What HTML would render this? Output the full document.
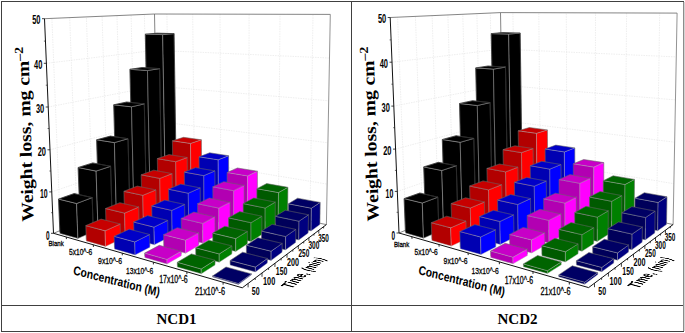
<!DOCTYPE html>
<html><head><meta charset="utf-8"><style>
html,body{margin:0;padding:0;background:#fff;overflow:hidden;}
svg{display:block;}
.t3{position:absolute;left:0;top:0;transform-origin:0 0;overflow:visible;}
</style></head><body>
<svg width="685" height="333" viewBox="0 0 685 333">
<rect width="685" height="333" fill="#fff"/>
<polygon points="53.5,233.3 157.8,190.2 154.5,14.0 44.5,18.7" fill="#fff"/>
<polygon points="157.8,190.2 326.4,224.6 330.3,14.4 154.5,14.0" fill="#fff"/>
<line x1="51.7" y1="191.9" x2="157.2" y2="156.0" stroke="#e2e2e2" stroke-width="0.6" stroke-dasharray="1.5,1"/>
<line x1="157.2" y1="156.0" x2="327.1" y2="184.1" stroke="#e2e2e2" stroke-width="0.6" stroke-dasharray="1.5,1"/>
<line x1="50.0" y1="149.8" x2="156.5" y2="121.3" stroke="#e2e2e2" stroke-width="0.6" stroke-dasharray="1.5,1"/>
<line x1="156.5" y1="121.3" x2="327.9" y2="142.8" stroke="#e2e2e2" stroke-width="0.6" stroke-dasharray="1.5,1"/>
<line x1="48.2" y1="107.0" x2="155.9" y2="86.1" stroke="#e2e2e2" stroke-width="0.6" stroke-dasharray="1.5,1"/>
<line x1="155.9" y1="86.1" x2="328.7" y2="100.8" stroke="#e2e2e2" stroke-width="0.6" stroke-dasharray="1.5,1"/>
<line x1="46.3" y1="63.3" x2="155.2" y2="50.3" stroke="#e2e2e2" stroke-width="0.6" stroke-dasharray="1.5,1"/>
<line x1="155.2" y1="50.3" x2="329.5" y2="58.0" stroke="#e2e2e2" stroke-width="0.6" stroke-dasharray="1.5,1"/>
<line x1="60.5" y1="230.4" x2="51.9" y2="18.4" stroke="#e2e2e2" stroke-width="0.6" stroke-dasharray="1.5,1"/>
<line x1="77.2" y1="223.5" x2="69.7" y2="17.7" stroke="#e2e2e2" stroke-width="0.6" stroke-dasharray="1.5,1"/>
<line x1="93.0" y1="216.9" x2="86.4" y2="16.9" stroke="#e2e2e2" stroke-width="0.6" stroke-dasharray="1.5,1"/>
<line x1="107.9" y1="210.8" x2="102.1" y2="16.3" stroke="#e2e2e2" stroke-width="0.6" stroke-dasharray="1.5,1"/>
<line x1="122.0" y1="205.0" x2="117.0" y2="15.6" stroke="#e2e2e2" stroke-width="0.6" stroke-dasharray="1.5,1"/>
<line x1="135.4" y1="199.4" x2="131.1" y2="15.0" stroke="#e2e2e2" stroke-width="0.6" stroke-dasharray="1.5,1"/>
<line x1="148.1" y1="194.2" x2="144.4" y2="14.4" stroke="#e2e2e2" stroke-width="0.6" stroke-dasharray="1.5,1"/>
<line x1="169.8" y1="192.6" x2="166.9" y2="14.0" stroke="#e2e2e2" stroke-width="0.6" stroke-dasharray="1.5,1"/>
<line x1="194.6" y1="197.7" x2="192.7" y2="14.1" stroke="#e2e2e2" stroke-width="0.6" stroke-dasharray="1.5,1"/>
<line x1="220.9" y1="203.1" x2="220.0" y2="14.1" stroke="#e2e2e2" stroke-width="0.6" stroke-dasharray="1.5,1"/>
<line x1="248.8" y1="208.8" x2="249.1" y2="14.2" stroke="#e2e2e2" stroke-width="0.6" stroke-dasharray="1.5,1"/>
<line x1="278.4" y1="214.8" x2="280.0" y2="14.3" stroke="#e2e2e2" stroke-width="0.6" stroke-dasharray="1.5,1"/>
<line x1="309.9" y1="221.3" x2="313.0" y2="14.3" stroke="#e2e2e2" stroke-width="0.6" stroke-dasharray="1.5,1"/>
<line x1="44.5" y1="18.7" x2="154.5" y2="14.0" stroke="#666" stroke-width="0.8" />
<line x1="154.5" y1="14.0" x2="330.3" y2="14.4" stroke="#666" stroke-width="0.8" />
<line x1="157.8" y1="190.2" x2="154.5" y2="14.0" stroke="#666" stroke-width="0.8" />
<line x1="326.4" y1="224.6" x2="330.3" y2="14.4" stroke="#777" stroke-width="0.8" />
<line x1="53.5" y1="233.3" x2="157.8" y2="190.2" stroke="#666" stroke-width="0.8" />
<line x1="157.8" y1="190.2" x2="326.4" y2="224.6" stroke="#666" stroke-width="0.8" />
<line x1="53.5" y1="233.3" x2="44.5" y2="18.7" stroke="#111" stroke-width="1" />
<line x1="51.0" y1="233.3" x2="53.5" y2="233.3" stroke="#111" stroke-width="0.8"/>
<line x1="49.2" y1="191.9" x2="51.7" y2="191.9" stroke="#111" stroke-width="0.8"/>
<line x1="47.5" y1="149.8" x2="50.0" y2="149.8" stroke="#111" stroke-width="0.8"/>
<line x1="45.7" y1="107.0" x2="48.2" y2="107.0" stroke="#111" stroke-width="0.8"/>
<line x1="43.8" y1="63.3" x2="46.3" y2="63.3" stroke="#111" stroke-width="0.8"/>
<line x1="42.0" y1="18.7" x2="44.5" y2="18.7" stroke="#111" stroke-width="0.8"/>
<line x1="51.1" y1="212.7" x2="52.6" y2="212.7" stroke="#111" stroke-width="0.6"/>
<line x1="49.4" y1="171.0" x2="50.9" y2="171.0" stroke="#111" stroke-width="0.6"/>
<line x1="47.6" y1="128.5" x2="49.1" y2="128.5" stroke="#111" stroke-width="0.6"/>
<line x1="45.8" y1="85.2" x2="47.3" y2="85.2" stroke="#111" stroke-width="0.6"/>
<line x1="43.9" y1="41.1" x2="45.4" y2="41.1" stroke="#111" stroke-width="0.6"/>
<line x1="53.5" y1="233.3" x2="242.3" y2="287.8" stroke="#111" stroke-width="1" />
<line x1="242.3" y1="287.8" x2="326.4" y2="224.6" stroke="#111" stroke-width="1" />
<line x1="66.3" y1="237.0" x2="66.4" y2="239.1" stroke="#111" stroke-width="0.9" />
<line x1="93.3" y1="244.8" x2="93.4" y2="246.9" stroke="#111" stroke-width="0.9" />
<line x1="122.3" y1="253.1" x2="122.3" y2="255.3" stroke="#111" stroke-width="0.9" />
<line x1="153.4" y1="262.1" x2="153.4" y2="264.4" stroke="#111" stroke-width="0.9" />
<line x1="186.9" y1="271.8" x2="186.9" y2="274.2" stroke="#111" stroke-width="0.9" />
<line x1="223.1" y1="282.2" x2="223.1" y2="284.7" stroke="#111" stroke-width="0.9" />
<line x1="248.1" y1="283.4" x2="248.1" y2="287.4" stroke="#111" stroke-width="0.8" />
<line x1="255.2" y1="278.1" x2="255.2" y2="280.0" stroke="#111" stroke-width="0.8" />
<line x1="262.0" y1="272.9" x2="262.0" y2="276.8" stroke="#111" stroke-width="0.8" />
<line x1="268.6" y1="268.0" x2="268.6" y2="269.9" stroke="#111" stroke-width="0.8" />
<line x1="275.0" y1="263.2" x2="274.9" y2="266.9" stroke="#111" stroke-width="0.8" />
<line x1="281.1" y1="258.6" x2="281.1" y2="260.4" stroke="#111" stroke-width="0.8" />
<line x1="287.0" y1="254.2" x2="287.0" y2="257.8" stroke="#111" stroke-width="0.8" />
<line x1="292.8" y1="249.9" x2="292.8" y2="251.6" stroke="#111" stroke-width="0.8" />
<line x1="298.3" y1="245.7" x2="298.3" y2="249.2" stroke="#111" stroke-width="0.8" />
<line x1="303.7" y1="241.7" x2="303.7" y2="243.4" stroke="#111" stroke-width="0.8" />
<line x1="308.9" y1="237.7" x2="308.9" y2="241.1" stroke="#111" stroke-width="0.8" />
<line x1="314.0" y1="234.0" x2="313.9" y2="235.6" stroke="#111" stroke-width="0.8" />
<line x1="318.8" y1="230.3" x2="318.8" y2="233.6" stroke="#111" stroke-width="0.8" />
<line x1="323.6" y1="226.7" x2="323.6" y2="228.4" stroke="#111" stroke-width="0.8" />
<polygon points="148.6,196.3 165.5,199.9 162.7,34.6 145.3,34.2" fill="#000" stroke="#9a9a9a" stroke-width="0.55" stroke-linejoin="round"/>
<polygon points="165.5,199.9 176.5,195.1 174.1,33.6 162.7,34.6" fill="#000" stroke="#9a9a9a" stroke-width="0.55" stroke-linejoin="round"/>
<polygon points="145.3,34.2 162.7,34.6 174.1,33.6 156.9,33.2" fill="#000" stroke="#9a9a9a" stroke-width="0.55" stroke-linejoin="round"/>
<polyline points="148.6,195.2 145.3,34.2 156.9,33.2 174.1,33.6 176.5,194.0" fill="none" stroke="#000" stroke-width="0.5" stroke-linejoin="round"/>
<polygon points="133.2,202.8 150.3,206.6 147.5,70.5 129.9,69.3" fill="#000" stroke="#9a9a9a" stroke-width="0.55" stroke-linejoin="round"/>
<polygon points="150.3,206.6 162.0,201.5 159.6,68.6 147.5,70.5" fill="#000" stroke="#9a9a9a" stroke-width="0.55" stroke-linejoin="round"/>
<polygon points="129.9,69.3 147.5,70.5 159.6,68.6 142.2,67.5" fill="#000" stroke="#9a9a9a" stroke-width="0.55" stroke-linejoin="round"/>
<polyline points="133.1,201.7 129.9,69.3 142.2,67.5 159.6,68.6 162.0,200.4" fill="none" stroke="#000" stroke-width="0.5" stroke-linejoin="round"/>
<polygon points="116.7,209.6 134.0,213.8 131.5,106.8 113.7,104.8" fill="#000" stroke="#9a9a9a" stroke-width="0.55" stroke-linejoin="round"/>
<polygon points="134.0,213.8 146.5,208.3 144.3,103.9 131.5,106.8" fill="#000" stroke="#9a9a9a" stroke-width="0.55" stroke-linejoin="round"/>
<polygon points="113.7,104.8 131.5,106.8 144.3,103.9 126.7,102.0" fill="#000" stroke="#9a9a9a" stroke-width="0.55" stroke-linejoin="round"/>
<polyline points="116.6,208.5 113.7,104.8 126.7,102.0 144.3,103.9 146.5,207.2" fill="none" stroke="#000" stroke-width="0.5" stroke-linejoin="round"/>
<polygon points="99.0,217.0 116.6,221.5 114.4,142.6 96.6,139.8" fill="#000" stroke="#9a9a9a" stroke-width="0.55" stroke-linejoin="round"/>
<polygon points="116.6,221.5 130.0,215.6 128.0,138.7 114.4,142.6" fill="#000" stroke="#9a9a9a" stroke-width="0.55" stroke-linejoin="round"/>
<polygon points="96.6,139.8 114.4,142.6 128.0,138.7 110.4,136.1" fill="#000" stroke="#9a9a9a" stroke-width="0.55" stroke-linejoin="round"/>
<polyline points="99.0,215.9 96.6,139.8 110.4,136.1 128.0,138.7 129.9,214.4" fill="none" stroke="#000" stroke-width="0.5" stroke-linejoin="round"/>
<polygon points="80.2,224.9 98.0,229.7 96.1,171.1 78.1,167.5" fill="#000" stroke="#9a9a9a" stroke-width="0.55" stroke-linejoin="round"/>
<polygon points="98.0,229.7 112.3,223.4 110.6,166.3 96.1,171.1" fill="#000" stroke="#9a9a9a" stroke-width="0.55" stroke-linejoin="round"/>
<polygon points="78.1,167.5 96.1,171.1 110.6,166.3 92.8,162.9" fill="#000" stroke="#9a9a9a" stroke-width="0.55" stroke-linejoin="round"/>
<polyline points="80.1,223.7 78.1,167.5 92.8,162.9 110.6,166.3 112.2,222.2" fill="none" stroke="#000" stroke-width="0.5" stroke-linejoin="round"/>
<polygon points="59.9,233.4 77.9,238.5 76.6,203.5 58.5,199.1" fill="#000" stroke="#9a9a9a" stroke-width="0.55" stroke-linejoin="round"/>
<polygon points="77.9,238.5 93.3,231.7 92.2,197.6 76.6,203.5" fill="#000" stroke="#9a9a9a" stroke-width="0.55" stroke-linejoin="round"/>
<polygon points="58.5,199.1 76.6,203.5 92.2,197.6 74.2,193.5" fill="#000" stroke="#9a9a9a" stroke-width="0.55" stroke-linejoin="round"/>
<polyline points="59.9,232.1 58.5,199.1 74.2,193.5 92.2,197.6 93.3,230.5" fill="none" stroke="#000" stroke-width="0.5" stroke-linejoin="round"/>
<polygon points="173.3,201.6 191.2,205.4 190.5,143.4 172.4,140.8" fill="#b20000" stroke="rgba(170,170,170,0.75)" stroke-width="0.55" stroke-linejoin="round"/>
<polygon points="191.2,205.4 201.9,200.3 201.4,139.8 190.5,143.4" fill="#ff0000" stroke="rgba(170,170,170,0.75)" stroke-width="0.55" stroke-linejoin="round"/>
<polygon points="172.4,140.8 190.5,143.4 201.4,139.8 183.5,137.3" fill="#c70000" stroke="rgba(170,170,170,0.75)" stroke-width="0.55" stroke-linejoin="round"/>
<polyline points="173.3,200.5 172.4,140.8 183.5,137.3 201.4,139.8 201.9,199.2" fill="none" stroke="rgba(0,0,0,0.45)" stroke-width="0.5" stroke-linejoin="round"/>
<polygon points="158.2,208.4 176.4,212.5 175.7,161.7 157.3,158.6" fill="#b20000" stroke="rgba(170,170,170,0.75)" stroke-width="0.55" stroke-linejoin="round"/>
<polygon points="176.4,212.5 187.8,207.1 187.2,157.5 175.7,161.7" fill="#ff0000" stroke="rgba(170,170,170,0.75)" stroke-width="0.55" stroke-linejoin="round"/>
<polygon points="157.3,158.6 175.7,161.7 187.2,157.5 169.0,154.6" fill="#c70000" stroke="rgba(170,170,170,0.75)" stroke-width="0.55" stroke-linejoin="round"/>
<polyline points="158.2,207.3 157.3,158.6 169.0,154.6 187.2,157.5 187.8,206.0" fill="none" stroke="rgba(0,0,0,0.45)" stroke-width="0.5" stroke-linejoin="round"/>
<polygon points="142.1,215.7 160.5,220.1 159.8,178.4 141.2,174.8" fill="#b20000" stroke="rgba(170,170,170,0.75)" stroke-width="0.55" stroke-linejoin="round"/>
<polygon points="160.5,220.1 172.7,214.3 172.1,173.6 159.8,178.4" fill="#ff0000" stroke="rgba(170,170,170,0.75)" stroke-width="0.55" stroke-linejoin="round"/>
<polygon points="141.2,174.8 159.8,178.4 172.1,173.6 153.7,170.2" fill="#c70000" stroke="rgba(170,170,170,0.75)" stroke-width="0.55" stroke-linejoin="round"/>
<polyline points="142.0,214.6 141.2,174.8 153.7,170.2 172.1,173.6 172.7,213.1" fill="none" stroke="rgba(0,0,0,0.45)" stroke-width="0.5" stroke-linejoin="round"/>
<polygon points="124.8,223.5 143.5,228.2 142.8,195.3 123.9,191.3" fill="#b20000" stroke="rgba(170,170,170,0.75)" stroke-width="0.55" stroke-linejoin="round"/>
<polygon points="143.5,228.2 156.5,222.0 155.9,189.9 142.8,195.3" fill="#ff0000" stroke="rgba(170,170,170,0.75)" stroke-width="0.55" stroke-linejoin="round"/>
<polygon points="123.9,191.3 142.8,195.3 155.9,189.9 137.3,186.1" fill="#c70000" stroke="rgba(170,170,170,0.75)" stroke-width="0.55" stroke-linejoin="round"/>
<polyline points="124.7,222.3 123.9,191.3 137.3,186.1 155.9,189.9 156.5,220.8" fill="none" stroke="rgba(0,0,0,0.45)" stroke-width="0.5" stroke-linejoin="round"/>
<polygon points="106.2,231.9 125.2,237.0 124.6,213.1 105.5,208.5" fill="#b20000" stroke="rgba(170,170,170,0.75)" stroke-width="0.55" stroke-linejoin="round"/>
<polygon points="125.2,237.0 139.2,230.3 138.7,207.0 124.6,213.1" fill="#ff0000" stroke="rgba(170,170,170,0.75)" stroke-width="0.55" stroke-linejoin="round"/>
<polygon points="105.5,208.5 124.6,213.1 138.7,207.0 119.8,202.7" fill="#c70000" stroke="rgba(170,170,170,0.75)" stroke-width="0.55" stroke-linejoin="round"/>
<polyline points="106.2,230.7 105.5,208.5 119.8,202.7 138.7,207.0 139.2,229.1" fill="none" stroke="rgba(0,0,0,0.45)" stroke-width="0.5" stroke-linejoin="round"/>
<polygon points="86.3,240.9 105.5,246.4 105.1,230.8 85.8,225.6" fill="#b20000" stroke="rgba(170,170,170,0.75)" stroke-width="0.55" stroke-linejoin="round"/>
<polygon points="105.5,246.4 120.6,239.2 120.2,224.0 105.1,230.8" fill="#ff0000" stroke="rgba(170,170,170,0.75)" stroke-width="0.55" stroke-linejoin="round"/>
<polygon points="85.8,225.6 105.1,230.8 120.2,224.0 101.1,219.1" fill="#c70000" stroke="rgba(170,170,170,0.75)" stroke-width="0.55" stroke-linejoin="round"/>
<polyline points="86.2,239.6 85.8,225.6 101.1,219.1 120.2,224.0 120.6,237.9" fill="none" stroke="rgba(0,0,0,0.45)" stroke-width="0.5" stroke-linejoin="round"/>
<polygon points="199.5,207.2 218.5,211.2 218.2,159.8 199.0,156.8" fill="#0000b2" stroke="rgba(170,170,170,0.75)" stroke-width="0.55" stroke-linejoin="round"/>
<polygon points="218.5,211.2 228.8,205.8 228.6,155.7 218.2,159.8" fill="#0000ff" stroke="rgba(170,170,170,0.75)" stroke-width="0.55" stroke-linejoin="round"/>
<polygon points="199.0,156.8 218.2,159.8 228.6,155.7 209.7,152.8" fill="#0000c7" stroke="rgba(170,170,170,0.75)" stroke-width="0.55" stroke-linejoin="round"/>
<polyline points="199.5,206.1 199.0,156.8 209.7,152.8 228.6,155.7 228.8,204.7" fill="none" stroke="rgba(0,0,0,0.45)" stroke-width="0.5" stroke-linejoin="round"/>
<polygon points="184.8,214.4 204.1,218.8 203.8,175.6 184.3,172.1" fill="#0000b2" stroke="rgba(170,170,170,0.75)" stroke-width="0.55" stroke-linejoin="round"/>
<polygon points="204.1,218.8 215.1,213.0 214.9,170.9 203.8,175.6" fill="#0000ff" stroke="rgba(170,170,170,0.75)" stroke-width="0.55" stroke-linejoin="round"/>
<polygon points="184.3,172.1 203.8,175.6 214.9,170.9 195.6,167.6" fill="#0000c7" stroke="rgba(170,170,170,0.75)" stroke-width="0.55" stroke-linejoin="round"/>
<polyline points="184.8,213.3 184.3,172.1 195.6,167.6 214.9,170.9 215.1,211.8" fill="none" stroke="rgba(0,0,0,0.45)" stroke-width="0.5" stroke-linejoin="round"/>
<polygon points="169.1,222.1 188.7,226.8 188.3,193.2 168.5,189.2" fill="#0000b2" stroke="rgba(170,170,170,0.75)" stroke-width="0.55" stroke-linejoin="round"/>
<polygon points="188.7,226.8 200.5,220.6 200.2,187.9 188.3,193.2" fill="#0000ff" stroke="rgba(170,170,170,0.75)" stroke-width="0.55" stroke-linejoin="round"/>
<polygon points="168.5,189.2 188.3,193.2 200.2,187.9 180.7,184.1" fill="#0000c7" stroke="rgba(170,170,170,0.75)" stroke-width="0.55" stroke-linejoin="round"/>
<polyline points="169.1,221.0 168.5,189.2 180.7,184.1 200.2,187.9 200.5,219.5" fill="none" stroke="rgba(0,0,0,0.45)" stroke-width="0.5" stroke-linejoin="round"/>
<polygon points="152.2,230.4 172.2,235.5 171.8,210.4 151.7,205.9" fill="#0000b2" stroke="rgba(170,170,170,0.75)" stroke-width="0.55" stroke-linejoin="round"/>
<polygon points="172.2,235.5 184.9,228.8 184.6,204.4 171.8,210.4" fill="#0000ff" stroke="rgba(170,170,170,0.75)" stroke-width="0.55" stroke-linejoin="round"/>
<polygon points="151.7,205.9 171.8,210.4 184.6,204.4 164.7,200.1" fill="#0000c7" stroke="rgba(170,170,170,0.75)" stroke-width="0.55" stroke-linejoin="round"/>
<polyline points="152.2,229.2 151.7,205.9 164.7,200.1 184.6,204.4 184.9,227.6" fill="none" stroke="rgba(0,0,0,0.45)" stroke-width="0.5" stroke-linejoin="round"/>
<polygon points="134.1,239.4 154.4,244.8 154.0,227.1 133.6,222.0" fill="#0000b2" stroke="rgba(170,170,170,0.75)" stroke-width="0.55" stroke-linejoin="round"/>
<polygon points="154.4,244.8 168.0,237.7 167.7,220.4 154.0,227.1" fill="#0000ff" stroke="rgba(170,170,170,0.75)" stroke-width="0.55" stroke-linejoin="round"/>
<polygon points="133.6,222.0 154.0,227.1 167.7,220.4 147.6,215.6" fill="#0000c7" stroke="rgba(170,170,170,0.75)" stroke-width="0.55" stroke-linejoin="round"/>
<polyline points="134.0,238.1 133.6,222.0 147.6,215.6 167.7,220.4 168.0,236.4" fill="none" stroke="rgba(0,0,0,0.45)" stroke-width="0.5" stroke-linejoin="round"/>
<polygon points="114.5,249.0 135.1,254.9 134.8,241.9 114.1,236.3" fill="#0000b2" stroke="rgba(170,170,170,0.75)" stroke-width="0.55" stroke-linejoin="round"/>
<polygon points="135.1,254.9 149.9,247.2 149.6,234.5 134.8,241.9" fill="#0000ff" stroke="rgba(170,170,170,0.75)" stroke-width="0.55" stroke-linejoin="round"/>
<polygon points="114.1,236.3 134.8,241.9 149.6,234.5 129.2,229.2" fill="#0000c7" stroke="rgba(170,170,170,0.75)" stroke-width="0.55" stroke-linejoin="round"/>
<polyline points="114.5,247.7 114.1,236.3 129.2,229.2 149.6,234.5 149.9,245.9" fill="none" stroke="rgba(0,0,0,0.45)" stroke-width="0.5" stroke-linejoin="round"/>
<polygon points="227.3,213.1 247.4,217.4 247.5,175.9 227.1,172.5" fill="#b200b2" stroke="rgba(170,170,170,0.75)" stroke-width="0.55" stroke-linejoin="round"/>
<polygon points="247.4,217.4 257.3,211.7 257.4,171.2 247.5,175.9" fill="#ff00ff" stroke="rgba(170,170,170,0.75)" stroke-width="0.55" stroke-linejoin="round"/>
<polygon points="227.1,172.5 247.5,175.9 257.4,171.2 237.4,168.0" fill="#c700c7" stroke="rgba(170,170,170,0.75)" stroke-width="0.55" stroke-linejoin="round"/>
<polyline points="227.3,212.0 227.1,172.5 237.4,168.0 257.4,171.2 257.3,210.6" fill="none" stroke="rgba(0,0,0,0.45)" stroke-width="0.5" stroke-linejoin="round"/>
<polygon points="213.1,220.8 233.6,225.4 233.6,190.7 212.8,186.8" fill="#b200b2" stroke="rgba(170,170,170,0.75)" stroke-width="0.55" stroke-linejoin="round"/>
<polygon points="233.6,225.4 244.2,219.3 244.2,185.4 233.6,190.7" fill="#ff00ff" stroke="rgba(170,170,170,0.75)" stroke-width="0.55" stroke-linejoin="round"/>
<polygon points="212.8,186.8 233.6,190.7 244.2,185.4 223.8,181.7" fill="#c700c7" stroke="rgba(170,170,170,0.75)" stroke-width="0.55" stroke-linejoin="round"/>
<polyline points="213.1,219.6 212.8,186.8 223.8,181.7 244.2,185.4 244.2,218.1" fill="none" stroke="rgba(0,0,0,0.45)" stroke-width="0.5" stroke-linejoin="round"/>
<polygon points="197.8,229.0 218.8,234.0 218.7,208.1 197.6,203.7" fill="#b200b2" stroke="rgba(170,170,170,0.75)" stroke-width="0.55" stroke-linejoin="round"/>
<polygon points="218.8,234.0 230.2,227.4 230.1,202.2 218.7,208.1" fill="#ff00ff" stroke="rgba(170,170,170,0.75)" stroke-width="0.55" stroke-linejoin="round"/>
<polygon points="197.6,203.7 218.7,208.1 230.1,202.2 209.3,198.0" fill="#c700c7" stroke="rgba(170,170,170,0.75)" stroke-width="0.55" stroke-linejoin="round"/>
<polyline points="197.8,227.8 197.6,203.7 209.3,198.0 230.1,202.2 230.2,226.2" fill="none" stroke="rgba(0,0,0,0.45)" stroke-width="0.5" stroke-linejoin="round"/>
<polygon points="181.5,237.8 202.9,243.2 202.7,223.4 181.2,218.4" fill="#b200b2" stroke="rgba(170,170,170,0.75)" stroke-width="0.55" stroke-linejoin="round"/>
<polygon points="202.9,243.2 215.1,236.1 215.0,216.8 202.7,223.4" fill="#ff00ff" stroke="rgba(170,170,170,0.75)" stroke-width="0.55" stroke-linejoin="round"/>
<polygon points="181.2,218.4 202.7,223.4 215.0,216.8 193.8,212.1" fill="#c700c7" stroke="rgba(170,170,170,0.75)" stroke-width="0.55" stroke-linejoin="round"/>
<polyline points="181.5,236.6 181.2,218.4 193.8,212.1 215.0,216.8 215.1,234.9" fill="none" stroke="rgba(0,0,0,0.45)" stroke-width="0.5" stroke-linejoin="round"/>
<polygon points="163.8,247.3 185.6,253.2 185.5,240.2 163.6,234.7" fill="#b200b2" stroke="rgba(170,170,170,0.75)" stroke-width="0.55" stroke-linejoin="round"/>
<polygon points="185.6,253.2 198.8,245.5 198.7,232.9 185.5,240.2" fill="#ff00ff" stroke="rgba(170,170,170,0.75)" stroke-width="0.55" stroke-linejoin="round"/>
<polygon points="163.6,234.7 185.5,240.2 198.7,232.9 177.2,227.7" fill="#c700c7" stroke="rgba(170,170,170,0.75)" stroke-width="0.55" stroke-linejoin="round"/>
<polyline points="163.8,246.0 163.6,234.7 177.2,227.7 198.7,232.9 198.8,244.2" fill="none" stroke="rgba(0,0,0,0.45)" stroke-width="0.5" stroke-linejoin="round"/>
<polygon points="144.8,257.6 167.0,264.0 166.9,259.4 144.7,253.1" fill="#b200b2" stroke="rgba(170,170,170,0.75)" stroke-width="0.55" stroke-linejoin="round"/>
<polygon points="167.0,264.0 181.3,255.7 181.2,251.2 166.9,259.4" fill="#ff00ff" stroke="rgba(170,170,170,0.75)" stroke-width="0.55" stroke-linejoin="round"/>
<polygon points="144.7,253.1 166.9,259.4 181.2,251.2 159.3,245.3" fill="#c700c7" stroke="rgba(170,170,170,0.75)" stroke-width="0.55" stroke-linejoin="round"/>
<polyline points="144.7,256.3 144.7,253.1 159.3,245.3 181.2,251.2 181.3,254.4" fill="none" stroke="rgba(0,0,0,0.45)" stroke-width="0.5" stroke-linejoin="round"/>
<polygon points="256.8,219.4 278.2,224.0 278.5,192.6 256.9,188.7" fill="#005a00" stroke="rgba(170,170,170,0.75)" stroke-width="0.55" stroke-linejoin="round"/>
<polygon points="278.2,224.0 287.6,217.9 287.9,187.3 278.5,192.6" fill="#008000" stroke="rgba(170,170,170,0.75)" stroke-width="0.55" stroke-linejoin="round"/>
<polygon points="256.9,188.7 278.5,192.6 287.9,187.3 266.7,183.6" fill="#006400" stroke="rgba(170,170,170,0.75)" stroke-width="0.55" stroke-linejoin="round"/>
<polyline points="256.8,218.2 256.9,188.7 266.7,183.6 287.9,187.3 287.6,216.8" fill="none" stroke="rgba(0,0,0,0.45)" stroke-width="0.5" stroke-linejoin="round"/>
<polygon points="243.2,227.6 265.1,232.5 265.2,208.0 243.2,203.6" fill="#005a00" stroke="rgba(170,170,170,0.75)" stroke-width="0.55" stroke-linejoin="round"/>
<polygon points="265.1,232.5 275.2,226.0 275.3,202.1 265.2,208.0" fill="#008000" stroke="rgba(170,170,170,0.75)" stroke-width="0.55" stroke-linejoin="round"/>
<polygon points="243.2,203.6 265.2,208.0 275.3,202.1 253.7,197.9" fill="#006400" stroke="rgba(170,170,170,0.75)" stroke-width="0.55" stroke-linejoin="round"/>
<polyline points="243.2,226.3 243.2,203.6 253.7,197.9 275.3,202.1 275.2,224.8" fill="none" stroke="rgba(0,0,0,0.45)" stroke-width="0.5" stroke-linejoin="round"/>
<polygon points="228.6,236.3 251.0,241.6 251.0,222.7 228.5,217.8" fill="#005a00" stroke="rgba(170,170,170,0.75)" stroke-width="0.55" stroke-linejoin="round"/>
<polygon points="251.0,241.6 261.8,234.6 261.9,216.2 251.0,222.7" fill="#008000" stroke="rgba(170,170,170,0.75)" stroke-width="0.55" stroke-linejoin="round"/>
<polygon points="228.5,217.8 251.0,222.7 261.9,216.2 239.7,211.6" fill="#006400" stroke="rgba(170,170,170,0.75)" stroke-width="0.55" stroke-linejoin="round"/>
<polyline points="228.6,235.0 228.5,217.8 239.7,211.6 261.9,216.2 261.8,233.4" fill="none" stroke="rgba(0,0,0,0.45)" stroke-width="0.5" stroke-linejoin="round"/>
<polygon points="212.8,245.7 235.7,251.5 235.7,238.6 212.7,233.1" fill="#005a00" stroke="rgba(170,170,170,0.75)" stroke-width="0.55" stroke-linejoin="round"/>
<polygon points="235.7,251.5 247.4,243.9 247.4,231.4 235.7,238.6" fill="#008000" stroke="rgba(170,170,170,0.75)" stroke-width="0.55" stroke-linejoin="round"/>
<polygon points="212.7,233.1 235.7,238.6 247.4,231.4 224.8,226.2" fill="#006400" stroke="rgba(170,170,170,0.75)" stroke-width="0.55" stroke-linejoin="round"/>
<polyline points="212.8,244.4 212.7,233.1 224.8,226.2 247.4,231.4 247.4,242.7" fill="none" stroke="rgba(0,0,0,0.45)" stroke-width="0.5" stroke-linejoin="round"/>
<polygon points="195.8,255.9 219.2,262.2 219.2,253.9 195.7,247.8" fill="#005a00" stroke="rgba(170,170,170,0.75)" stroke-width="0.55" stroke-linejoin="round"/>
<polygon points="219.2,262.2 231.9,254.0 231.9,245.9 219.2,253.9" fill="#008000" stroke="rgba(170,170,170,0.75)" stroke-width="0.55" stroke-linejoin="round"/>
<polygon points="195.7,247.8 219.2,253.9 231.9,245.9 208.8,240.2" fill="#006400" stroke="rgba(170,170,170,0.75)" stroke-width="0.55" stroke-linejoin="round"/>
<polyline points="195.8,254.6 195.7,247.8 208.8,240.2 231.9,245.9 231.9,252.7" fill="none" stroke="rgba(0,0,0,0.45)" stroke-width="0.5" stroke-linejoin="round"/>
<polygon points="177.3,267.0 201.3,273.8 201.2,269.0 177.3,262.3" fill="#005a00" stroke="rgba(170,170,170,0.75)" stroke-width="0.55" stroke-linejoin="round"/>
<polygon points="201.3,273.8 215.1,264.9 215.0,260.2 201.2,269.0" fill="#008000" stroke="rgba(170,170,170,0.75)" stroke-width="0.55" stroke-linejoin="round"/>
<polygon points="177.3,262.3 201.2,269.0 215.0,260.2 191.4,253.9" fill="#006400" stroke="rgba(170,170,170,0.75)" stroke-width="0.55" stroke-linejoin="round"/>
<polyline points="177.3,265.6 177.3,262.3 191.4,253.9 215.0,260.2 215.0,263.5" fill="none" stroke="rgba(0,0,0,0.45)" stroke-width="0.5" stroke-linejoin="round"/>
<polygon points="288.2,226.1 311.1,231.0 311.4,208.2 288.4,203.8" fill="#00005a" stroke="rgba(170,170,170,0.75)" stroke-width="0.55" stroke-linejoin="round"/>
<polygon points="311.1,231.0 319.9,224.6 320.2,202.4 311.4,208.2" fill="#000080" stroke="rgba(170,170,170,0.75)" stroke-width="0.55" stroke-linejoin="round"/>
<polygon points="288.4,203.8 311.4,208.2 320.2,202.4 297.6,198.2" fill="#000064" stroke="rgba(170,170,170,0.75)" stroke-width="0.55" stroke-linejoin="round"/>
<polyline points="288.2,224.9 288.4,203.8 297.6,198.2 320.2,202.4 319.9,223.4" fill="none" stroke="rgba(0,0,0,0.45)" stroke-width="0.5" stroke-linejoin="round"/>
<polygon points="275.3,234.8 298.8,240.1 299.0,221.2 275.4,216.3" fill="#00005a" stroke="rgba(170,170,170,0.75)" stroke-width="0.55" stroke-linejoin="round"/>
<polygon points="298.8,240.1 308.2,233.1 308.5,214.8 299.0,221.2" fill="#000080" stroke="rgba(170,170,170,0.75)" stroke-width="0.55" stroke-linejoin="round"/>
<polygon points="275.4,216.3 299.0,221.2 308.5,214.8 285.3,210.2" fill="#000064" stroke="rgba(170,170,170,0.75)" stroke-width="0.55" stroke-linejoin="round"/>
<polyline points="275.3,233.5 275.4,216.3 285.3,210.2 308.5,214.8 308.2,231.9" fill="none" stroke="rgba(0,0,0,0.45)" stroke-width="0.5" stroke-linejoin="round"/>
<polygon points="261.4,244.1 285.5,249.9 285.6,236.5 261.5,231.1" fill="#00005a" stroke="rgba(170,170,170,0.75)" stroke-width="0.55" stroke-linejoin="round"/>
<polygon points="285.5,249.9 295.7,242.4 295.8,229.4 285.6,236.5" fill="#000080" stroke="rgba(170,170,170,0.75)" stroke-width="0.55" stroke-linejoin="round"/>
<polygon points="261.5,231.1 285.6,236.5 295.8,229.4 272.1,224.3" fill="#000064" stroke="rgba(170,170,170,0.75)" stroke-width="0.55" stroke-linejoin="round"/>
<polyline points="261.4,242.8 261.5,231.1 272.1,224.3 295.8,229.4 295.7,241.1" fill="none" stroke="rgba(0,0,0,0.45)" stroke-width="0.5" stroke-linejoin="round"/>
<polygon points="246.4,254.2 271.1,260.4 271.1,251.2 246.4,245.2" fill="#00005a" stroke="rgba(170,170,170,0.75)" stroke-width="0.55" stroke-linejoin="round"/>
<polygon points="271.1,260.4 282.1,252.3 282.2,243.4 271.1,251.2" fill="#000080" stroke="rgba(170,170,170,0.75)" stroke-width="0.55" stroke-linejoin="round"/>
<polygon points="246.4,245.2 271.1,251.2 282.2,243.4 257.9,237.7" fill="#000064" stroke="rgba(170,170,170,0.75)" stroke-width="0.55" stroke-linejoin="round"/>
<polyline points="246.4,252.9 246.4,245.2 257.9,237.7 282.2,243.4 282.1,251.0" fill="none" stroke="rgba(0,0,0,0.45)" stroke-width="0.5" stroke-linejoin="round"/>
<polygon points="230.1,265.1 255.4,271.9 255.4,267.1 230.1,260.5" fill="#00005a" stroke="rgba(170,170,170,0.75)" stroke-width="0.55" stroke-linejoin="round"/>
<polygon points="255.4,271.9 267.4,263.1 267.4,258.5 255.4,267.1" fill="#000080" stroke="rgba(170,170,170,0.75)" stroke-width="0.55" stroke-linejoin="round"/>
<polygon points="230.1,260.5 255.4,267.1 267.4,258.5 242.6,252.2" fill="#000064" stroke="rgba(170,170,170,0.75)" stroke-width="0.55" stroke-linejoin="round"/>
<polyline points="230.1,263.7 230.1,260.5 242.6,252.2 267.4,258.5 267.4,261.7" fill="none" stroke="rgba(0,0,0,0.45)" stroke-width="0.5" stroke-linejoin="round"/>
<polygon points="212.5,277.0 238.4,284.5 238.4,283.5 212.5,276.1" fill="#00005a" stroke="rgba(170,170,170,0.75)" stroke-width="0.55" stroke-linejoin="round"/>
<polygon points="238.4,284.5 251.5,274.8 251.5,273.9 238.4,283.5" fill="#000080" stroke="rgba(170,170,170,0.75)" stroke-width="0.55" stroke-linejoin="round"/>
<polygon points="212.5,276.1 238.4,283.5 251.5,273.9 226.0,267.0" fill="#000064" stroke="rgba(170,170,170,0.75)" stroke-width="0.55" stroke-linejoin="round"/>
<polyline points="212.5,275.6 212.5,276.1 226.0,267.0 251.5,273.9 251.5,273.4" fill="none" stroke="rgba(0,0,0,0.45)" stroke-width="0.5" stroke-linejoin="round"/>
<text x="45.9" y="239.8" font-family="Liberation Sans" font-size="12.06" font-weight="bold" textLength="3.6" lengthAdjust="spacingAndGlyphs">0</text>
<text x="40.0" y="198.2" font-family="Liberation Sans" font-size="12.06" font-weight="bold" textLength="7.7" lengthAdjust="spacingAndGlyphs">10</text>
<text x="37.7" y="155.8" font-family="Liberation Sans" font-size="12.06" font-weight="bold" textLength="8.3" lengthAdjust="spacingAndGlyphs">20</text>
<text x="35.9" y="112.6" font-family="Liberation Sans" font-size="12.06" font-weight="bold" textLength="8.3" lengthAdjust="spacingAndGlyphs">30</text>
<text x="34.0" y="68.6" font-family="Liberation Sans" font-size="12.06" font-weight="bold" textLength="8.3" lengthAdjust="spacingAndGlyphs">40</text>
<text x="32.2" y="23.8" font-family="Liberation Sans" font-size="12.06" font-weight="bold" textLength="8.3" lengthAdjust="spacingAndGlyphs">50</text>
<text x="48.5" y="246.4" font-family="Liberation Sans" font-size="7.48" font-weight="normal" stroke="#000" stroke-width="0.3" textLength="15.2" lengthAdjust="spacingAndGlyphs">Blank</text>
<text x="69.0" y="254.8" font-family="Liberation Sans" font-size="9.01" font-weight="normal" stroke="#000" stroke-width="0.3" textLength="23.3" lengthAdjust="spacingAndGlyphs">5x10^-6</text>
<text x="98.1" y="263.7" font-family="Liberation Sans" font-size="9.16" font-weight="normal" stroke="#000" stroke-width="0.3" textLength="24.0" lengthAdjust="spacingAndGlyphs">9x10^-6</text>
<text x="126.0" y="273.5" font-family="Liberation Sans" font-size="9.77" font-weight="normal" stroke="#000" stroke-width="0.3" textLength="27.3" lengthAdjust="spacingAndGlyphs">13x10^-6</text>
<text x="159.2" y="283.4" font-family="Liberation Sans" font-size="10.23" font-weight="normal" stroke="#000" stroke-width="0.3" textLength="28.5" lengthAdjust="spacingAndGlyphs">17x10^-6</text>
<text x="195.0" y="294.8" font-family="Liberation Sans" font-size="10.84" font-weight="normal" stroke="#000" stroke-width="0.3" textLength="30.0" lengthAdjust="spacingAndGlyphs">21x10^-6</text>
<text x="251.8" y="295.2" font-family="Liberation Sans" font-size="10.84" font-weight="bold" textLength="7.8" lengthAdjust="spacingAndGlyphs">50</text>
<text x="263.0" y="284.9" font-family="Liberation Sans" font-size="10.84" font-weight="bold" textLength="12.2" lengthAdjust="spacingAndGlyphs">100</text>
<text x="275.8" y="275.2" font-family="Liberation Sans" font-size="10.84" font-weight="bold" textLength="11.5" lengthAdjust="spacingAndGlyphs">150</text>
<text x="286.9" y="266.4" font-family="Liberation Sans" font-size="10.84" font-weight="bold" textLength="12.0" lengthAdjust="spacingAndGlyphs">200</text>
<text x="298.5" y="257.4" font-family="Liberation Sans" font-size="10.84" font-weight="bold" textLength="10.8" lengthAdjust="spacingAndGlyphs">250</text>
<text x="308.4" y="249.2" font-family="Liberation Sans" font-size="10.84" font-weight="bold" textLength="10.9" lengthAdjust="spacingAndGlyphs">300</text>
<text x="318.2" y="241.6" font-family="Liberation Sans" font-size="10.84" font-weight="bold" textLength="10.7" lengthAdjust="spacingAndGlyphs">350</text>
<text transform="translate(33.6,221.6) rotate(-91.7) scale(1,0.87)" font-family="Liberation Serif" font-size="19.6" font-weight="bold">Weight loss, mg cm<tspan dy="-6.5" font-size="14">&#8211;2</tspan></text>
<text transform="matrix(0.795,0.205,-0.17,0.975,72.8,274.2)" font-family="Liberation Sans" font-size="12.7" font-weight="bold" textLength="108.6" lengthAdjust="spacingAndGlyphs">Concentration (M)</text>
<polygon points="399.0,233.0 503.6,189.8 500.5,12.6 390.2,17.5" fill="#fff"/>
<polygon points="503.6,189.8 673.1,224.5 677.1,13.1 500.5,12.6" fill="#fff"/>
<line x1="397.3" y1="191.4" x2="503.0" y2="155.4" stroke="#e2e2e2" stroke-width="0.6" stroke-dasharray="1.5,1"/>
<line x1="503.0" y1="155.4" x2="673.8" y2="183.7" stroke="#e2e2e2" stroke-width="0.6" stroke-dasharray="1.5,1"/>
<line x1="395.5" y1="149.1" x2="502.4" y2="120.5" stroke="#e2e2e2" stroke-width="0.6" stroke-dasharray="1.5,1"/>
<line x1="502.4" y1="120.5" x2="674.6" y2="142.2" stroke="#e2e2e2" stroke-width="0.6" stroke-dasharray="1.5,1"/>
<line x1="393.8" y1="106.1" x2="501.8" y2="85.1" stroke="#e2e2e2" stroke-width="0.6" stroke-dasharray="1.5,1"/>
<line x1="501.8" y1="85.1" x2="675.4" y2="99.9" stroke="#e2e2e2" stroke-width="0.6" stroke-dasharray="1.5,1"/>
<line x1="392.0" y1="62.2" x2="501.1" y2="49.1" stroke="#e2e2e2" stroke-width="0.6" stroke-dasharray="1.5,1"/>
<line x1="501.1" y1="49.1" x2="676.2" y2="56.9" stroke="#e2e2e2" stroke-width="0.6" stroke-dasharray="1.5,1"/>
<line x1="406.0" y1="230.1" x2="397.6" y2="17.1" stroke="#e2e2e2" stroke-width="0.6" stroke-dasharray="1.5,1"/>
<line x1="422.7" y1="223.2" x2="415.4" y2="16.3" stroke="#e2e2e2" stroke-width="0.6" stroke-dasharray="1.5,1"/>
<line x1="438.6" y1="216.6" x2="432.1" y2="15.6" stroke="#e2e2e2" stroke-width="0.6" stroke-dasharray="1.5,1"/>
<line x1="453.5" y1="210.5" x2="447.9" y2="14.9" stroke="#e2e2e2" stroke-width="0.6" stroke-dasharray="1.5,1"/>
<line x1="467.7" y1="204.6" x2="462.8" y2="14.2" stroke="#e2e2e2" stroke-width="0.6" stroke-dasharray="1.5,1"/>
<line x1="481.1" y1="199.1" x2="476.9" y2="13.6" stroke="#e2e2e2" stroke-width="0.6" stroke-dasharray="1.5,1"/>
<line x1="493.9" y1="193.8" x2="490.3" y2="13.0" stroke="#e2e2e2" stroke-width="0.6" stroke-dasharray="1.5,1"/>
<line x1="515.6" y1="192.3" x2="512.9" y2="12.6" stroke="#e2e2e2" stroke-width="0.6" stroke-dasharray="1.5,1"/>
<line x1="540.6" y1="197.4" x2="538.8" y2="12.7" stroke="#e2e2e2" stroke-width="0.6" stroke-dasharray="1.5,1"/>
<line x1="567.1" y1="202.8" x2="566.3" y2="12.8" stroke="#e2e2e2" stroke-width="0.6" stroke-dasharray="1.5,1"/>
<line x1="595.1" y1="208.5" x2="595.5" y2="12.8" stroke="#e2e2e2" stroke-width="0.6" stroke-dasharray="1.5,1"/>
<line x1="624.9" y1="214.6" x2="626.6" y2="12.9" stroke="#e2e2e2" stroke-width="0.6" stroke-dasharray="1.5,1"/>
<line x1="656.5" y1="221.1" x2="659.7" y2="13.0" stroke="#e2e2e2" stroke-width="0.6" stroke-dasharray="1.5,1"/>
<line x1="390.2" y1="17.5" x2="500.5" y2="12.6" stroke="#666" stroke-width="0.8" />
<line x1="500.5" y1="12.6" x2="677.1" y2="13.1" stroke="#666" stroke-width="0.8" />
<line x1="503.6" y1="189.8" x2="500.5" y2="12.6" stroke="#666" stroke-width="0.8" />
<line x1="673.1" y1="224.5" x2="677.1" y2="13.1" stroke="#777" stroke-width="0.8" />
<line x1="399.0" y1="233.0" x2="503.6" y2="189.8" stroke="#666" stroke-width="0.8" />
<line x1="503.6" y1="189.8" x2="673.1" y2="224.5" stroke="#666" stroke-width="0.8" />
<line x1="399.0" y1="233.0" x2="390.2" y2="17.5" stroke="#111" stroke-width="1" />
<line x1="396.5" y1="233.0" x2="399.0" y2="233.0" stroke="#111" stroke-width="0.8"/>
<line x1="394.8" y1="191.4" x2="397.3" y2="191.4" stroke="#111" stroke-width="0.8"/>
<line x1="393.0" y1="149.1" x2="395.5" y2="149.1" stroke="#111" stroke-width="0.8"/>
<line x1="391.3" y1="106.1" x2="393.8" y2="106.1" stroke="#111" stroke-width="0.8"/>
<line x1="389.5" y1="62.2" x2="392.0" y2="62.2" stroke="#111" stroke-width="0.8"/>
<line x1="387.7" y1="17.5" x2="390.2" y2="17.5" stroke="#111" stroke-width="0.8"/>
<line x1="396.6" y1="212.3" x2="398.1" y2="212.3" stroke="#111" stroke-width="0.6"/>
<line x1="394.9" y1="170.4" x2="396.4" y2="170.4" stroke="#111" stroke-width="0.6"/>
<line x1="393.2" y1="127.7" x2="394.7" y2="127.7" stroke="#111" stroke-width="0.6"/>
<line x1="391.4" y1="84.2" x2="392.9" y2="84.2" stroke="#111" stroke-width="0.6"/>
<line x1="389.6" y1="39.9" x2="391.1" y2="39.9" stroke="#111" stroke-width="0.6"/>
<line x1="399.0" y1="233.0" x2="588.6" y2="287.6" stroke="#111" stroke-width="1" />
<line x1="588.6" y1="287.6" x2="673.1" y2="224.5" stroke="#111" stroke-width="1" />
<line x1="411.9" y1="236.7" x2="412.0" y2="238.8" stroke="#111" stroke-width="0.9" />
<line x1="439.0" y1="244.5" x2="439.1" y2="246.7" stroke="#111" stroke-width="0.9" />
<line x1="468.1" y1="252.9" x2="468.2" y2="255.1" stroke="#111" stroke-width="0.9" />
<line x1="499.3" y1="261.9" x2="499.4" y2="264.2" stroke="#111" stroke-width="0.9" />
<line x1="533.0" y1="271.6" x2="533.0" y2="273.9" stroke="#111" stroke-width="0.9" />
<line x1="569.3" y1="282.0" x2="569.3" y2="284.5" stroke="#111" stroke-width="0.9" />
<line x1="594.5" y1="283.2" x2="594.5" y2="287.2" stroke="#111" stroke-width="0.8" />
<line x1="601.6" y1="277.9" x2="601.6" y2="279.8" stroke="#111" stroke-width="0.8" />
<line x1="608.4" y1="272.8" x2="608.4" y2="276.6" stroke="#111" stroke-width="0.8" />
<line x1="615.0" y1="267.8" x2="615.0" y2="269.7" stroke="#111" stroke-width="0.8" />
<line x1="621.4" y1="263.1" x2="621.4" y2="266.8" stroke="#111" stroke-width="0.8" />
<line x1="627.6" y1="258.4" x2="627.6" y2="260.3" stroke="#111" stroke-width="0.8" />
<line x1="633.5" y1="254.0" x2="633.5" y2="257.6" stroke="#111" stroke-width="0.8" />
<line x1="639.3" y1="249.7" x2="639.3" y2="251.5" stroke="#111" stroke-width="0.8" />
<line x1="644.9" y1="245.5" x2="644.8" y2="249.0" stroke="#111" stroke-width="0.8" />
<line x1="650.3" y1="241.5" x2="650.2" y2="243.2" stroke="#111" stroke-width="0.8" />
<line x1="655.5" y1="237.6" x2="655.5" y2="241.0" stroke="#111" stroke-width="0.8" />
<line x1="660.6" y1="233.8" x2="660.5" y2="235.5" stroke="#111" stroke-width="0.8" />
<line x1="665.5" y1="230.1" x2="665.4" y2="233.4" stroke="#111" stroke-width="0.8" />
<line x1="670.3" y1="226.5" x2="670.2" y2="228.2" stroke="#111" stroke-width="0.8" />
<polygon points="494.4,195.9 511.4,199.6 508.7,34.1 491.2,33.6" fill="#000" stroke="#9a9a9a" stroke-width="0.55" stroke-linejoin="round"/>
<polygon points="511.4,199.6 522.4,194.7 520.2,33.1 508.7,34.1" fill="#000" stroke="#9a9a9a" stroke-width="0.55" stroke-linejoin="round"/>
<polygon points="491.2,33.6 508.7,34.1 520.2,33.1 502.8,32.6" fill="#000" stroke="#9a9a9a" stroke-width="0.55" stroke-linejoin="round"/>
<polyline points="494.4,194.9 491.2,33.6 502.8,32.6 520.2,33.1 522.4,193.7" fill="none" stroke="#000" stroke-width="0.5" stroke-linejoin="round"/>
<polygon points="478.9,202.4 496.1,206.3 493.4,69.1 475.7,67.9" fill="#000" stroke="#9a9a9a" stroke-width="0.55" stroke-linejoin="round"/>
<polygon points="496.1,206.3 507.8,201.1 505.5,67.1 493.4,69.1" fill="#000" stroke="#9a9a9a" stroke-width="0.55" stroke-linejoin="round"/>
<polygon points="475.7,67.9 493.4,69.1 505.5,67.1 488.0,66.0" fill="#000" stroke="#9a9a9a" stroke-width="0.55" stroke-linejoin="round"/>
<polyline points="478.8,201.3 475.7,67.9 488.0,66.0 505.5,67.1 507.8,200.1" fill="none" stroke="#000" stroke-width="0.5" stroke-linejoin="round"/>
<polygon points="462.3,209.3 479.8,213.5 477.3,105.5 459.5,103.5" fill="#000" stroke="#9a9a9a" stroke-width="0.55" stroke-linejoin="round"/>
<polygon points="479.8,213.5 492.3,208.0 490.1,102.6 477.3,105.5" fill="#000" stroke="#9a9a9a" stroke-width="0.55" stroke-linejoin="round"/>
<polygon points="459.5,103.5 477.3,105.5 490.1,102.6 472.5,100.7" fill="#000" stroke="#9a9a9a" stroke-width="0.55" stroke-linejoin="round"/>
<polyline points="462.3,208.2 459.5,103.5 472.5,100.7 490.1,102.6 492.3,206.9" fill="none" stroke="#000" stroke-width="0.5" stroke-linejoin="round"/>
<polygon points="444.6,216.7 462.3,221.2 460.2,142.3 442.3,139.5" fill="#000" stroke="#9a9a9a" stroke-width="0.55" stroke-linejoin="round"/>
<polygon points="462.3,221.2 475.7,215.3 473.8,138.4 460.2,142.3" fill="#000" stroke="#9a9a9a" stroke-width="0.55" stroke-linejoin="round"/>
<polygon points="442.3,139.5 460.2,142.3 473.8,138.4 456.1,135.7" fill="#000" stroke="#9a9a9a" stroke-width="0.55" stroke-linejoin="round"/>
<polyline points="444.6,215.5 442.3,139.5 456.1,135.7 473.8,138.4 475.7,214.1" fill="none" stroke="#000" stroke-width="0.5" stroke-linejoin="round"/>
<polygon points="425.7,224.6 443.6,229.4 441.8,170.5 423.7,166.9" fill="#000" stroke="#9a9a9a" stroke-width="0.55" stroke-linejoin="round"/>
<polygon points="443.6,229.4 458.0,223.1 456.3,165.7 441.8,170.5" fill="#000" stroke="#9a9a9a" stroke-width="0.55" stroke-linejoin="round"/>
<polygon points="423.7,166.9 441.8,170.5 456.3,165.7 438.4,162.3" fill="#000" stroke="#9a9a9a" stroke-width="0.55" stroke-linejoin="round"/>
<polyline points="425.7,223.4 423.7,166.9 438.4,162.3 456.3,165.7 457.9,221.9" fill="none" stroke="#000" stroke-width="0.5" stroke-linejoin="round"/>
<polygon points="405.5,233.0 423.5,238.2 422.3,203.0 404.1,198.6" fill="#000" stroke="#9a9a9a" stroke-width="0.55" stroke-linejoin="round"/>
<polygon points="423.5,238.2 438.9,231.4 437.8,197.2 422.3,203.0" fill="#000" stroke="#9a9a9a" stroke-width="0.55" stroke-linejoin="round"/>
<polygon points="404.1,198.6 422.3,203.0 437.8,197.2 419.8,193.0" fill="#000" stroke="#9a9a9a" stroke-width="0.55" stroke-linejoin="round"/>
<polyline points="405.4,231.8 404.1,198.6 419.8,193.0 437.8,197.2 438.9,230.2" fill="none" stroke="#000" stroke-width="0.5" stroke-linejoin="round"/>
<polygon points="519.3,201.3 537.2,205.1 536.5,133.3 518.2,130.8" fill="#b20000" stroke="rgba(170,170,170,0.75)" stroke-width="0.55" stroke-linejoin="round"/>
<polygon points="537.2,205.1 547.9,200.0 547.4,129.9 536.5,133.3" fill="#ff0000" stroke="rgba(170,170,170,0.75)" stroke-width="0.55" stroke-linejoin="round"/>
<polygon points="518.2,130.8 536.5,133.3 547.4,129.9 529.3,127.5" fill="#c70000" stroke="rgba(170,170,170,0.75)" stroke-width="0.55" stroke-linejoin="round"/>
<polyline points="519.2,200.2 518.2,130.8 529.3,127.5 547.4,129.9 547.9,198.9" fill="none" stroke="rgba(0,0,0,0.45)" stroke-width="0.5" stroke-linejoin="round"/>
<polygon points="504.1,208.1 522.3,212.2 521.5,152.6 503.0,149.6" fill="#b20000" stroke="rgba(170,170,170,0.75)" stroke-width="0.55" stroke-linejoin="round"/>
<polygon points="522.3,212.2 533.8,206.8 533.1,148.5 521.5,152.6" fill="#ff0000" stroke="rgba(170,170,170,0.75)" stroke-width="0.55" stroke-linejoin="round"/>
<polygon points="503.0,149.6 521.5,152.6 533.1,148.5 514.8,145.8" fill="#c70000" stroke="rgba(170,170,170,0.75)" stroke-width="0.55" stroke-linejoin="round"/>
<polyline points="504.0,207.0 503.0,149.6 514.8,145.8 533.1,148.5 533.7,205.6" fill="none" stroke="rgba(0,0,0,0.45)" stroke-width="0.5" stroke-linejoin="round"/>
<polygon points="487.9,215.4 506.4,219.8 505.6,171.9 486.9,168.4" fill="#b20000" stroke="rgba(170,170,170,0.75)" stroke-width="0.55" stroke-linejoin="round"/>
<polygon points="506.4,219.8 518.6,214.0 517.9,167.2 505.6,171.9" fill="#ff0000" stroke="rgba(170,170,170,0.75)" stroke-width="0.55" stroke-linejoin="round"/>
<polygon points="486.9,168.4 505.6,171.9 517.9,167.2 499.4,164.0" fill="#c70000" stroke="rgba(170,170,170,0.75)" stroke-width="0.55" stroke-linejoin="round"/>
<polyline points="487.8,214.3 486.9,168.4 499.4,164.0 517.9,167.2 518.6,212.8" fill="none" stroke="rgba(0,0,0,0.45)" stroke-width="0.5" stroke-linejoin="round"/>
<polygon points="470.5,223.2 489.3,228.0 488.5,189.9 469.6,186.0" fill="#b20000" stroke="rgba(170,170,170,0.75)" stroke-width="0.55" stroke-linejoin="round"/>
<polygon points="489.3,228.0 502.4,221.7 501.7,184.7 488.5,189.9" fill="#ff0000" stroke="rgba(170,170,170,0.75)" stroke-width="0.55" stroke-linejoin="round"/>
<polygon points="469.6,186.0 488.5,189.9 501.7,184.7 483.0,180.9" fill="#c70000" stroke="rgba(170,170,170,0.75)" stroke-width="0.55" stroke-linejoin="round"/>
<polyline points="470.5,222.0 469.6,186.0 483.0,180.9 501.7,184.7 502.4,220.5" fill="none" stroke="rgba(0,0,0,0.45)" stroke-width="0.5" stroke-linejoin="round"/>
<polygon points="451.9,231.6 471.0,236.7 470.3,208.0 451.1,203.5" fill="#b20000" stroke="rgba(170,170,170,0.75)" stroke-width="0.55" stroke-linejoin="round"/>
<polygon points="471.0,236.7 485.1,230.0 484.4,202.0 470.3,208.0" fill="#ff0000" stroke="rgba(170,170,170,0.75)" stroke-width="0.55" stroke-linejoin="round"/>
<polygon points="451.1,203.5 470.3,208.0 484.4,202.0 465.5,197.8" fill="#c70000" stroke="rgba(170,170,170,0.75)" stroke-width="0.55" stroke-linejoin="round"/>
<polyline points="451.9,230.4 451.1,203.5 465.5,197.8 484.4,202.0 485.0,228.8" fill="none" stroke="rgba(0,0,0,0.45)" stroke-width="0.5" stroke-linejoin="round"/>
<polygon points="431.9,240.6 451.3,246.1 450.7,227.8 431.3,222.7" fill="#b20000" stroke="rgba(170,170,170,0.75)" stroke-width="0.55" stroke-linejoin="round"/>
<polygon points="451.3,246.1 466.4,238.9 466.0,221.1 450.7,227.8" fill="#ff0000" stroke="rgba(170,170,170,0.75)" stroke-width="0.55" stroke-linejoin="round"/>
<polygon points="431.3,222.7 450.7,227.8 466.0,221.1 446.7,216.2" fill="#c70000" stroke="rgba(170,170,170,0.75)" stroke-width="0.55" stroke-linejoin="round"/>
<polyline points="431.9,239.3 431.3,222.7 446.7,216.2 466.0,221.1 466.4,237.6" fill="none" stroke="rgba(0,0,0,0.45)" stroke-width="0.5" stroke-linejoin="round"/>
<polygon points="545.6,206.9 564.6,211.0 564.4,151.9 545.1,149.0" fill="#0000b2" stroke="rgba(170,170,170,0.75)" stroke-width="0.55" stroke-linejoin="round"/>
<polygon points="564.6,211.0 575.0,205.5 574.8,147.9 564.4,151.9" fill="#0000ff" stroke="rgba(170,170,170,0.75)" stroke-width="0.55" stroke-linejoin="round"/>
<polygon points="545.1,149.0 564.4,151.9 574.8,147.9 555.8,145.1" fill="#0000c7" stroke="rgba(170,170,170,0.75)" stroke-width="0.55" stroke-linejoin="round"/>
<polyline points="545.6,205.8 545.1,149.0 555.8,145.1 574.8,147.9 575.0,204.4" fill="none" stroke="rgba(0,0,0,0.45)" stroke-width="0.5" stroke-linejoin="round"/>
<polygon points="530.8,214.1 550.2,218.5 549.8,169.1 530.2,165.7" fill="#0000b2" stroke="rgba(170,170,170,0.75)" stroke-width="0.55" stroke-linejoin="round"/>
<polygon points="550.2,218.5 561.3,212.7 561.0,164.5 549.8,169.1" fill="#0000ff" stroke="rgba(170,170,170,0.75)" stroke-width="0.55" stroke-linejoin="round"/>
<polygon points="530.2,165.7 549.8,169.1 561.0,164.5 541.7,161.3" fill="#0000c7" stroke="rgba(170,170,170,0.75)" stroke-width="0.55" stroke-linejoin="round"/>
<polyline points="530.8,213.0 530.2,165.7 541.7,161.3 561.0,164.5 561.3,211.6" fill="none" stroke="rgba(0,0,0,0.45)" stroke-width="0.5" stroke-linejoin="round"/>
<polygon points="515.0,221.9 534.8,226.6 534.3,186.2 514.4,182.3" fill="#0000b2" stroke="rgba(170,170,170,0.75)" stroke-width="0.55" stroke-linejoin="round"/>
<polygon points="534.8,226.6 546.6,220.4 546.3,181.0 534.3,186.2" fill="#0000ff" stroke="rgba(170,170,170,0.75)" stroke-width="0.55" stroke-linejoin="round"/>
<polygon points="514.4,182.3 534.3,186.2 546.3,181.0 526.6,177.4" fill="#0000c7" stroke="rgba(170,170,170,0.75)" stroke-width="0.55" stroke-linejoin="round"/>
<polyline points="515.0,220.7 514.4,182.3 526.6,177.4 546.3,181.0 546.6,219.2" fill="none" stroke="rgba(0,0,0,0.45)" stroke-width="0.5" stroke-linejoin="round"/>
<polygon points="498.1,230.2 518.2,235.2 517.7,204.5 497.5,200.1" fill="#0000b2" stroke="rgba(170,170,170,0.75)" stroke-width="0.55" stroke-linejoin="round"/>
<polygon points="518.2,235.2 530.9,228.6 530.5,198.6 517.7,204.5" fill="#0000ff" stroke="rgba(170,170,170,0.75)" stroke-width="0.55" stroke-linejoin="round"/>
<polygon points="497.5,200.1 517.7,204.5 530.5,198.6 510.6,194.5" fill="#0000c7" stroke="rgba(170,170,170,0.75)" stroke-width="0.55" stroke-linejoin="round"/>
<polyline points="498.1,228.9 497.5,200.1 510.6,194.5 530.5,198.6 530.9,227.4" fill="none" stroke="rgba(0,0,0,0.45)" stroke-width="0.5" stroke-linejoin="round"/>
<polygon points="479.9,239.1 500.3,244.6 499.9,221.5 479.4,216.5" fill="#0000b2" stroke="rgba(170,170,170,0.75)" stroke-width="0.55" stroke-linejoin="round"/>
<polygon points="500.3,244.6 514.0,237.4 513.6,214.9 499.9,221.5" fill="#0000ff" stroke="rgba(170,170,170,0.75)" stroke-width="0.55" stroke-linejoin="round"/>
<polygon points="479.4,216.5 499.9,221.5 513.6,214.9 493.4,210.3" fill="#0000c7" stroke="rgba(170,170,170,0.75)" stroke-width="0.55" stroke-linejoin="round"/>
<polyline points="479.9,237.8 479.4,216.5 493.4,210.3 513.6,214.9 514.0,236.1" fill="none" stroke="rgba(0,0,0,0.45)" stroke-width="0.5" stroke-linejoin="round"/>
<polygon points="460.3,248.7 481.0,254.6 480.6,237.0 459.8,231.5" fill="#0000b2" stroke="rgba(170,170,170,0.75)" stroke-width="0.55" stroke-linejoin="round"/>
<polygon points="481.0,254.6 495.8,246.9 495.5,229.8 480.6,237.0" fill="#0000ff" stroke="rgba(170,170,170,0.75)" stroke-width="0.55" stroke-linejoin="round"/>
<polygon points="459.8,231.5 480.6,237.0 495.5,229.8 474.9,224.6" fill="#0000c7" stroke="rgba(170,170,170,0.75)" stroke-width="0.55" stroke-linejoin="round"/>
<polyline points="460.2,247.4 459.8,231.5 474.9,224.6 495.5,229.8 495.8,245.6" fill="none" stroke="rgba(0,0,0,0.45)" stroke-width="0.5" stroke-linejoin="round"/>
<polygon points="573.5,212.8 593.7,217.2 593.8,167.1 573.3,163.8" fill="#b200b2" stroke="rgba(170,170,170,0.75)" stroke-width="0.55" stroke-linejoin="round"/>
<polygon points="593.7,217.2 603.6,211.4 603.8,162.6 593.8,167.1" fill="#ff00ff" stroke="rgba(170,170,170,0.75)" stroke-width="0.55" stroke-linejoin="round"/>
<polygon points="573.3,163.8 593.8,167.1 603.8,162.6 583.7,159.5" fill="#c700c7" stroke="rgba(170,170,170,0.75)" stroke-width="0.55" stroke-linejoin="round"/>
<polyline points="573.5,211.7 573.3,163.8 583.7,159.5 603.8,162.6 603.7,210.3" fill="none" stroke="rgba(0,0,0,0.45)" stroke-width="0.5" stroke-linejoin="round"/>
<polygon points="559.2,220.5 579.9,225.2 579.8,183.3 559.0,179.5" fill="#b200b2" stroke="rgba(170,170,170,0.75)" stroke-width="0.55" stroke-linejoin="round"/>
<polygon points="579.9,225.2 590.5,219.0 590.5,178.2 579.8,183.3" fill="#ff00ff" stroke="rgba(170,170,170,0.75)" stroke-width="0.55" stroke-linejoin="round"/>
<polygon points="559.0,179.5 579.8,183.3 590.5,178.2 570.0,174.6" fill="#c700c7" stroke="rgba(170,170,170,0.75)" stroke-width="0.55" stroke-linejoin="round"/>
<polyline points="559.2,219.3 559.0,179.5 570.0,174.6 590.5,178.2 590.5,217.9" fill="none" stroke="rgba(0,0,0,0.45)" stroke-width="0.5" stroke-linejoin="round"/>
<polygon points="543.9,228.7 565.0,233.8 564.9,203.1 543.6,198.8" fill="#b200b2" stroke="rgba(170,170,170,0.75)" stroke-width="0.55" stroke-linejoin="round"/>
<polygon points="565.0,233.8 576.4,227.2 576.3,197.3 564.9,203.1" fill="#ff00ff" stroke="rgba(170,170,170,0.75)" stroke-width="0.55" stroke-linejoin="round"/>
<polygon points="543.6,198.8 564.9,203.1 576.3,197.3 555.4,193.2" fill="#c700c7" stroke="rgba(170,170,170,0.75)" stroke-width="0.55" stroke-linejoin="round"/>
<polyline points="543.9,227.5 543.6,198.8 555.4,193.2 576.3,197.3 576.4,226.0" fill="none" stroke="rgba(0,0,0,0.45)" stroke-width="0.5" stroke-linejoin="round"/>
<polygon points="527.5,237.6 549.0,243.0 548.8,220.4 527.2,215.5" fill="#b200b2" stroke="rgba(170,170,170,0.75)" stroke-width="0.55" stroke-linejoin="round"/>
<polygon points="549.0,243.0 561.3,235.9 561.1,213.9 548.8,220.4" fill="#ff00ff" stroke="rgba(170,170,170,0.75)" stroke-width="0.55" stroke-linejoin="round"/>
<polygon points="527.2,215.5 548.8,220.4 561.1,213.9 539.9,209.3" fill="#c700c7" stroke="rgba(170,170,170,0.75)" stroke-width="0.55" stroke-linejoin="round"/>
<polyline points="527.5,236.3 527.2,215.5 539.9,209.3 561.1,213.9 561.3,234.7" fill="none" stroke="rgba(0,0,0,0.45)" stroke-width="0.5" stroke-linejoin="round"/>
<polygon points="509.8,247.1 531.7,253.0 531.5,239.9 509.6,234.4" fill="#b200b2" stroke="rgba(170,170,170,0.75)" stroke-width="0.55" stroke-linejoin="round"/>
<polygon points="531.7,253.0 545.0,245.3 544.8,232.7 531.5,239.9" fill="#ff00ff" stroke="rgba(170,170,170,0.75)" stroke-width="0.55" stroke-linejoin="round"/>
<polygon points="509.6,234.4 531.5,239.9 544.8,232.7 523.2,227.4" fill="#c700c7" stroke="rgba(170,170,170,0.75)" stroke-width="0.55" stroke-linejoin="round"/>
<polyline points="509.8,245.8 509.6,234.4 523.2,227.4 544.8,232.7 544.9,244.0" fill="none" stroke="rgba(0,0,0,0.45)" stroke-width="0.5" stroke-linejoin="round"/>
<polygon points="490.7,257.4 513.0,263.8 512.9,257.2 490.6,251.0" fill="#b200b2" stroke="rgba(170,170,170,0.75)" stroke-width="0.55" stroke-linejoin="round"/>
<polygon points="513.0,263.8 527.4,255.5 527.3,249.1 512.9,257.2" fill="#ff00ff" stroke="rgba(170,170,170,0.75)" stroke-width="0.55" stroke-linejoin="round"/>
<polygon points="490.6,251.0 512.9,257.2 527.3,249.1 505.2,243.3" fill="#c700c7" stroke="rgba(170,170,170,0.75)" stroke-width="0.55" stroke-linejoin="round"/>
<polyline points="490.7,256.0 490.6,251.0 505.2,243.3 527.3,249.1 527.3,254.1" fill="none" stroke="rgba(0,0,0,0.45)" stroke-width="0.5" stroke-linejoin="round"/>
<polygon points="603.1,219.2 624.7,223.8 625.0,184.5 603.3,180.7" fill="#005a00" stroke="rgba(170,170,170,0.75)" stroke-width="0.55" stroke-linejoin="round"/>
<polygon points="624.7,223.8 634.1,217.7 634.5,179.4 625.0,184.5" fill="#008000" stroke="rgba(170,170,170,0.75)" stroke-width="0.55" stroke-linejoin="round"/>
<polygon points="603.3,180.7 625.0,184.5 634.5,179.4 613.1,175.8" fill="#006400" stroke="rgba(170,170,170,0.75)" stroke-width="0.55" stroke-linejoin="round"/>
<polyline points="603.1,218.0 603.3,180.7 613.1,175.8 634.5,179.4 634.1,216.5" fill="none" stroke="rgba(0,0,0,0.45)" stroke-width="0.5" stroke-linejoin="round"/>
<polygon points="589.5,227.3 611.5,232.3 611.7,201.3 589.5,197.0" fill="#005a00" stroke="rgba(170,170,170,0.75)" stroke-width="0.55" stroke-linejoin="round"/>
<polygon points="611.5,232.3 621.6,225.8 621.8,195.6 611.7,201.3" fill="#008000" stroke="rgba(170,170,170,0.75)" stroke-width="0.55" stroke-linejoin="round"/>
<polygon points="589.5,197.0 611.7,201.3 621.8,195.6 600.0,191.5" fill="#006400" stroke="rgba(170,170,170,0.75)" stroke-width="0.55" stroke-linejoin="round"/>
<polyline points="589.5,226.1 589.5,197.0 600.0,191.5 621.8,195.6 621.6,224.6" fill="none" stroke="rgba(0,0,0,0.45)" stroke-width="0.5" stroke-linejoin="round"/>
<polygon points="574.8,236.1 597.3,241.4 597.4,217.2 574.7,212.4" fill="#005a00" stroke="rgba(170,170,170,0.75)" stroke-width="0.55" stroke-linejoin="round"/>
<polygon points="597.3,241.4 608.2,234.4 608.3,210.8 597.4,217.2" fill="#008000" stroke="rgba(170,170,170,0.75)" stroke-width="0.55" stroke-linejoin="round"/>
<polygon points="574.7,212.4 597.4,217.2 608.3,210.8 586.0,206.3" fill="#006400" stroke="rgba(170,170,170,0.75)" stroke-width="0.55" stroke-linejoin="round"/>
<polyline points="574.8,234.8 574.7,212.4 586.0,206.3 608.3,210.8 608.2,233.2" fill="none" stroke="rgba(0,0,0,0.45)" stroke-width="0.5" stroke-linejoin="round"/>
<polygon points="559.0,245.5 582.0,251.3 582.0,234.7 558.9,229.3" fill="#005a00" stroke="rgba(170,170,170,0.75)" stroke-width="0.55" stroke-linejoin="round"/>
<polygon points="582.0,251.3 593.7,243.8 593.8,227.6 582.0,234.7" fill="#008000" stroke="rgba(170,170,170,0.75)" stroke-width="0.55" stroke-linejoin="round"/>
<polygon points="558.9,229.3 582.0,234.7 593.8,227.6 571.0,222.5" fill="#006400" stroke="rgba(170,170,170,0.75)" stroke-width="0.55" stroke-linejoin="round"/>
<polyline points="559.0,244.2 558.9,229.3 571.0,222.5 593.8,227.6 593.7,242.4" fill="none" stroke="rgba(0,0,0,0.45)" stroke-width="0.5" stroke-linejoin="round"/>
<polygon points="541.9,255.7 565.4,262.0 565.4,251.8 541.8,245.7" fill="#005a00" stroke="rgba(170,170,170,0.75)" stroke-width="0.55" stroke-linejoin="round"/>
<polygon points="565.4,262.0 578.1,253.8 578.1,243.9 565.4,251.8" fill="#008000" stroke="rgba(170,170,170,0.75)" stroke-width="0.55" stroke-linejoin="round"/>
<polygon points="541.8,245.7 565.4,251.8 578.1,243.9 554.9,238.2" fill="#006400" stroke="rgba(170,170,170,0.75)" stroke-width="0.55" stroke-linejoin="round"/>
<polyline points="541.9,254.3 541.8,245.7 554.9,238.2 578.1,243.9 578.1,252.5" fill="none" stroke="rgba(0,0,0,0.45)" stroke-width="0.5" stroke-linejoin="round"/>
<polygon points="523.4,266.7 547.4,273.6 547.4,270.7 523.4,263.9" fill="#005a00" stroke="rgba(170,170,170,0.75)" stroke-width="0.55" stroke-linejoin="round"/>
<polygon points="547.4,273.6 561.3,264.7 561.2,261.9 547.4,270.7" fill="#008000" stroke="rgba(170,170,170,0.75)" stroke-width="0.55" stroke-linejoin="round"/>
<polygon points="523.4,263.9 547.4,270.7 561.2,261.9 537.6,255.5" fill="#006400" stroke="rgba(170,170,170,0.75)" stroke-width="0.55" stroke-linejoin="round"/>
<polyline points="523.4,265.3 523.4,263.9 537.6,255.5 561.2,261.9 561.2,263.3" fill="none" stroke="rgba(0,0,0,0.45)" stroke-width="0.5" stroke-linejoin="round"/>
<polygon points="634.7,225.9 657.7,230.8 658.1,202.5 635.0,198.2" fill="#00005a" stroke="rgba(170,170,170,0.75)" stroke-width="0.55" stroke-linejoin="round"/>
<polygon points="657.7,230.8 666.5,224.4 667.0,196.8 658.1,202.5" fill="#000080" stroke="rgba(170,170,170,0.75)" stroke-width="0.55" stroke-linejoin="round"/>
<polygon points="635.0,198.2 658.1,202.5 667.0,196.8 644.3,192.7" fill="#000064" stroke="rgba(170,170,170,0.75)" stroke-width="0.55" stroke-linejoin="round"/>
<polyline points="634.7,224.7 635.0,198.2 644.3,192.7 667.0,196.8 666.5,223.2" fill="none" stroke="rgba(0,0,0,0.45)" stroke-width="0.5" stroke-linejoin="round"/>
<polygon points="621.7,234.6 645.3,239.9 645.6,217.5 621.9,212.7" fill="#00005a" stroke="rgba(170,170,170,0.75)" stroke-width="0.55" stroke-linejoin="round"/>
<polygon points="645.3,239.9 654.8,233.0 655.1,211.1 645.6,217.5" fill="#000080" stroke="rgba(170,170,170,0.75)" stroke-width="0.55" stroke-linejoin="round"/>
<polygon points="621.9,212.7 645.6,217.5 655.1,211.1 631.9,206.6" fill="#000064" stroke="rgba(170,170,170,0.75)" stroke-width="0.55" stroke-linejoin="round"/>
<polyline points="621.7,233.3 621.9,212.7 631.9,206.6 655.1,211.1 654.8,231.7" fill="none" stroke="rgba(0,0,0,0.45)" stroke-width="0.5" stroke-linejoin="round"/>
<polygon points="607.8,243.9 631.9,249.7 632.1,234.1 607.9,228.7" fill="#00005a" stroke="rgba(170,170,170,0.75)" stroke-width="0.55" stroke-linejoin="round"/>
<polygon points="631.9,249.7 642.2,242.2 642.4,227.0 632.1,234.1" fill="#000080" stroke="rgba(170,170,170,0.75)" stroke-width="0.55" stroke-linejoin="round"/>
<polygon points="607.9,228.7 632.1,234.1 642.4,227.0 618.6,221.9" fill="#000064" stroke="rgba(170,170,170,0.75)" stroke-width="0.55" stroke-linejoin="round"/>
<polyline points="607.8,242.6 607.9,228.7 618.6,221.9 642.4,227.0 642.2,240.9" fill="none" stroke="rgba(0,0,0,0.45)" stroke-width="0.5" stroke-linejoin="round"/>
<polygon points="592.7,254.0 617.5,260.3 617.5,252.9 592.7,246.8" fill="#00005a" stroke="rgba(170,170,170,0.75)" stroke-width="0.55" stroke-linejoin="round"/>
<polygon points="617.5,260.3 628.6,252.1 628.6,245.0 617.5,252.9" fill="#000080" stroke="rgba(170,170,170,0.75)" stroke-width="0.55" stroke-linejoin="round"/>
<polygon points="592.7,246.8 617.5,252.9 628.6,245.0 604.3,239.3" fill="#000064" stroke="rgba(170,170,170,0.75)" stroke-width="0.55" stroke-linejoin="round"/>
<polyline points="592.7,252.7 592.7,246.8 604.3,239.3 628.6,245.0 628.6,250.8" fill="none" stroke="rgba(0,0,0,0.45)" stroke-width="0.5" stroke-linejoin="round"/>
<polygon points="576.4,265.0 601.8,271.7 601.8,267.4 576.4,260.7" fill="#00005a" stroke="rgba(170,170,170,0.75)" stroke-width="0.55" stroke-linejoin="round"/>
<polygon points="601.8,271.7 613.8,262.9 613.8,258.7 601.8,267.4" fill="#000080" stroke="rgba(170,170,170,0.75)" stroke-width="0.55" stroke-linejoin="round"/>
<polygon points="576.4,260.7 601.8,267.4 613.8,258.7 588.9,252.5" fill="#000064" stroke="rgba(170,170,170,0.75)" stroke-width="0.55" stroke-linejoin="round"/>
<polyline points="576.4,263.5 576.4,260.7 588.9,252.5 613.8,258.7 613.8,261.5" fill="none" stroke="rgba(0,0,0,0.45)" stroke-width="0.5" stroke-linejoin="round"/>
<polygon points="558.7,276.8 584.7,284.3 584.7,282.2 558.7,274.9" fill="#00005a" stroke="rgba(170,170,170,0.75)" stroke-width="0.55" stroke-linejoin="round"/>
<polygon points="584.7,284.3 597.8,274.6 597.8,272.7 584.7,282.2" fill="#000080" stroke="rgba(170,170,170,0.75)" stroke-width="0.55" stroke-linejoin="round"/>
<polygon points="558.7,274.9 584.7,282.2 597.8,272.7 572.3,265.8" fill="#000064" stroke="rgba(170,170,170,0.75)" stroke-width="0.55" stroke-linejoin="round"/>
<polyline points="558.7,275.4 558.7,274.9 572.3,265.8 597.8,272.7 597.8,273.2" fill="none" stroke="rgba(0,0,0,0.45)" stroke-width="0.5" stroke-linejoin="round"/>
<text x="391.4" y="239.5" font-family="Liberation Sans" font-size="12.06" font-weight="bold" textLength="3.6" lengthAdjust="spacingAndGlyphs">0</text>
<text x="385.6" y="197.7" font-family="Liberation Sans" font-size="12.06" font-weight="bold" textLength="7.7" lengthAdjust="spacingAndGlyphs">10</text>
<text x="383.2" y="155.1" font-family="Liberation Sans" font-size="12.06" font-weight="bold" textLength="8.3" lengthAdjust="spacingAndGlyphs">20</text>
<text x="381.5" y="111.7" font-family="Liberation Sans" font-size="12.06" font-weight="bold" textLength="8.3" lengthAdjust="spacingAndGlyphs">30</text>
<text x="379.7" y="67.5" font-family="Liberation Sans" font-size="12.06" font-weight="bold" textLength="8.3" lengthAdjust="spacingAndGlyphs">40</text>
<text x="377.9" y="22.5" font-family="Liberation Sans" font-size="12.06" font-weight="bold" textLength="8.3" lengthAdjust="spacingAndGlyphs">50</text>
<text x="394.0" y="246.8" font-family="Liberation Sans" font-size="7.48" font-weight="normal" stroke="#000" stroke-width="0.3" textLength="15.2" lengthAdjust="spacingAndGlyphs">Blank</text>
<text x="414.5" y="255.1" font-family="Liberation Sans" font-size="9.01" font-weight="normal" stroke="#000" stroke-width="0.3" textLength="23.3" lengthAdjust="spacingAndGlyphs">5x10^-6</text>
<text x="443.6" y="264.0" font-family="Liberation Sans" font-size="9.16" font-weight="normal" stroke="#000" stroke-width="0.3" textLength="24.0" lengthAdjust="spacingAndGlyphs">9x10^-6</text>
<text x="471.5" y="273.8" font-family="Liberation Sans" font-size="9.77" font-weight="normal" stroke="#000" stroke-width="0.3" textLength="27.3" lengthAdjust="spacingAndGlyphs">13x10^-6</text>
<text x="504.7" y="283.8" font-family="Liberation Sans" font-size="10.23" font-weight="normal" stroke="#000" stroke-width="0.3" textLength="28.5" lengthAdjust="spacingAndGlyphs">17x10^-6</text>
<text x="540.5" y="295.1" font-family="Liberation Sans" font-size="10.84" font-weight="normal" stroke="#000" stroke-width="0.3" textLength="30.0" lengthAdjust="spacingAndGlyphs">21x10^-6</text>
<text x="598.3" y="294.9" font-family="Liberation Sans" font-size="10.84" font-weight="bold" textLength="7.8" lengthAdjust="spacingAndGlyphs">50</text>
<text x="609.5" y="284.6" font-family="Liberation Sans" font-size="10.84" font-weight="bold" textLength="12.2" lengthAdjust="spacingAndGlyphs">100</text>
<text x="622.3" y="274.9" font-family="Liberation Sans" font-size="10.84" font-weight="bold" textLength="11.5" lengthAdjust="spacingAndGlyphs">150</text>
<text x="633.4" y="266.1" font-family="Liberation Sans" font-size="10.84" font-weight="bold" textLength="12.0" lengthAdjust="spacingAndGlyphs">200</text>
<text x="645.0" y="257.1" font-family="Liberation Sans" font-size="10.84" font-weight="bold" textLength="10.8" lengthAdjust="spacingAndGlyphs">250</text>
<text x="654.9" y="248.8" font-family="Liberation Sans" font-size="10.84" font-weight="bold" textLength="10.9" lengthAdjust="spacingAndGlyphs">300</text>
<text x="664.7" y="241.2" font-family="Liberation Sans" font-size="10.84" font-weight="bold" textLength="10.7" lengthAdjust="spacingAndGlyphs">350</text>
<text transform="translate(378.7,221.3) rotate(-91.7) scale(1,0.87)" font-family="Liberation Serif" font-size="19.6" font-weight="bold">Weight loss, mg cm<tspan dy="-6.5" font-size="14">&#8211;2</tspan></text>
<text transform="matrix(0.795,0.205,-0.17,0.975,417.9,273.9)" font-family="Liberation Sans" font-size="12.7" font-weight="bold" textLength="108.6" lengthAdjust="spacingAndGlyphs">Concentration (M)</text>
<g stroke="#404040" stroke-width="1" shape-rendering="crispEdges">
<line x1="1" y1="1.5" x2="684" y2="1.5"/>
<line x1="1.5" y1="1" x2="1.5" y2="332"/>
<line x1="1" y1="331.5" x2="684" y2="331.5"/>
<line x1="351.5" y1="1" x2="351.5" y2="332"/>
<line x1="1" y1="305.5" x2="684" y2="305.5"/>
</g>
<line x1="683.5" y1="2" x2="683.5" y2="331" stroke="#8c8c8c" stroke-width="1" shape-rendering="crispEdges"/>
<line x1="684.5" y1="2" x2="684.5" y2="331" stroke="#d4d4d4" stroke-width="1" shape-rendering="crispEdges"/>
<text x="176.5" y="324" text-anchor="middle" font-family="Liberation Serif" font-size="15" font-weight="bold">NCD1</text>
<text x="517.5" y="324" text-anchor="middle" font-family="Liberation Serif" font-size="15" font-weight="bold">NCD2</text>
</svg>
<svg class="t3" width="59" height="14" style="transform:matrix3d(1.31624,-0.0140868,0,0.00207394,1.11758,-0.0189403,0,-0.00156815,0,0,1,0,275.829,284.572,0,1)"><text x="0" y="10" font-family="Liberation Sans" font-size="10" font-weight="bold">Time, (min)</text></svg><svg class="t3" width="59" height="14" style="transform:matrix3d(2.02677,-0.0182396,0,0.00205694,0.584399,-0.0158941,0,-0.00156013,0,0,1,0,622.253,284.391,0,1)"><text x="0" y="10" font-family="Liberation Sans" font-size="10" font-weight="bold">Time, (min)</text></svg>
</body></html>
